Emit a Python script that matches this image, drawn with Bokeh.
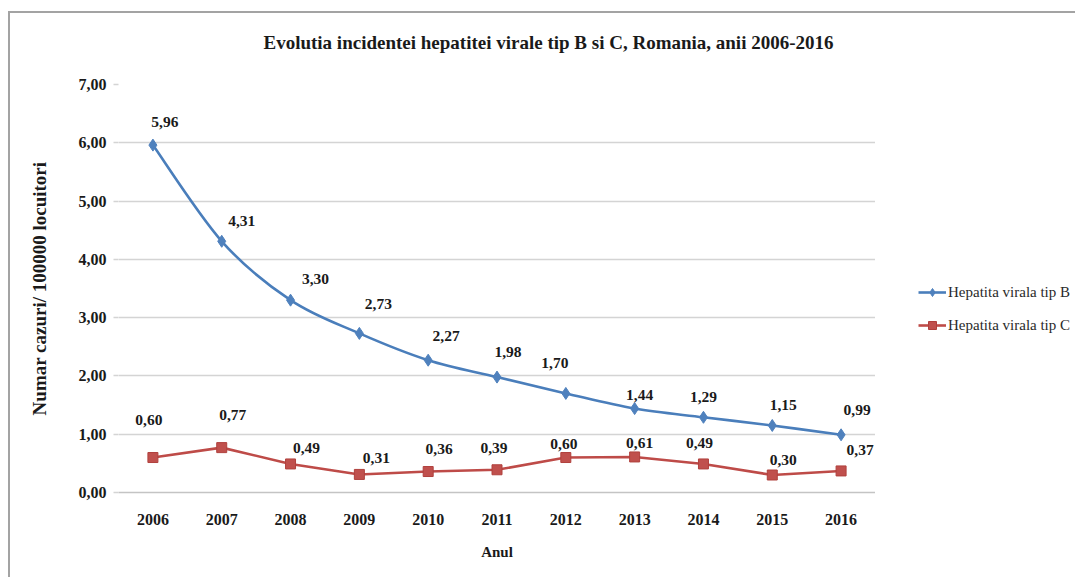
import numpy as np
from bokeh.plotting import figure
from bokeh.layouts import column, row
from bokeh.models import (ColumnDataSource, FixedTicker, Legend, LegendItem,
                          LabelSet, Label, Range1d)
from bokeh.embed import file_html
from bokeh.resources import INLINE

# ---- data -------------------------------------------------------------
years = [2006, 2007, 2008, 2009, 2010, 2011, 2012, 2013, 2014, 2015, 2016]
hep_b = [5.96, 4.31, 3.30, 2.73, 2.27, 1.98, 1.70, 1.44, 1.29, 1.15, 0.99]
hep_c = [0.60, 0.77, 0.49, 0.31, 0.36, 0.39, 0.60, 0.61, 0.49, 0.30, 0.37]
y_ticks = [0, 1, 2, 3, 4, 5, 6, 7]
y_tick_labels = ["0,00", "1,00", "2,00", "3,00", "4,00", "5,00", "6,00", "7,00"]
series_names = ["Hepatita virala tip B", "Hepatita virala tip C"]
title_text = "Evolutia incidentei hepatitei virale tip B si C, Romania, anii 2006-2016"
x_title = "Anul"
y_title = "Numar cazuri/ 100000 locuitori"

# ---- layout ------------------------------------------------------------
OX, OY = 10, 13              # content offset inside the bordered chart area
W_ALL = 1075 - OX
H_TITLE = 58                 # title strip
H_PLOT = 577 - OY - H_TITLE  # main plot row
W_PLOT = 865                 # main figure (frame ends at its right edge)
W_LEG = W_ALL - W_PLOT       # legend strip
SERIF = "Liberation Serif"
BLUE, BLUE_M = "#4A7EBB", "#4F81BD"
RED, RED_M = "#BE4B48", "#C0504D"
TXT = "#1a1a1a"


def fmt(v):
    return f"{v:.2f}".replace(".", ",")


# hand-placed data-label offsets (pixels, right / up)
b_off = [(12, 23), (20, 20), (25, 21), (19, 29), (18, 24), (11, 25),
         (-11, 30), (5, 14), (0, 20), (11, 20), (16, 25)]
c_off = [(-4, 38), (11, 33), (16, 16), (17, 16), (11, 23), (-3, 22),
         (-2, 14), (5, 14), (-4, 21), (11, 15), (19, 21)]


def blank(width, height):
    f = figure(width=width, height=height, x_range=Range1d(0, 1), y_range=Range1d(0, 1),
               x_axis_type=None, y_axis_type=None, output_backend="svg",
               toolbar_location=None, min_border=0)
    f.outline_line_color = None
    f.background_fill_color = "white"
    f.border_fill_color = "white"
    return f


# ---- title strip ---------------------------------------------------------
t = blank(W_ALL, H_TITLE)
t.add_layout(Label(x=538, y=H_TITLE - 29, x_units="screen", y_units="screen",
                   text=title_text, text_font=SERIF, text_font_style="bold",
                   text_font_size="19px", text_color=TXT,
                   text_align="center", text_baseline="middle"))

# ---- main plot -----------------------------------------------------------
p = figure(width=W_PLOT, height=H_PLOT, x_range=(years[0] - 0.5, years[-1] + 0.5),
           y_range=(y_ticks[0], y_ticks[-1]), output_backend="svg",
           toolbar_location=None, min_border_left=108, min_border_right=0,
           min_border_top=13, min_border_bottom=85)
p.outline_line_color = None
p.background_fill_color = "white"
p.border_fill_color = "white"

p.xgrid.grid_line_color = None
p.ygrid.ticker = FixedTicker(ticks=y_ticks)
p.ygrid.grid_line_color = "#d4d4d4"
p.ygrid.grid_line_width = 1.6

p.xaxis.ticker = FixedTicker(ticks=years)
p.xaxis.axis_line_color = "#c4c4c4"
p.xaxis.axis_line_width = 1.6
p.xaxis.major_tick_line_color = None
p.xaxis.minor_tick_line_color = None
p.xaxis.major_label_standoff = 15
p.xaxis.axis_label = x_title
p.xaxis.axis_label_standoff = 16

p.yaxis.ticker = FixedTicker(ticks=y_ticks)
p.yaxis.major_label_overrides = {tk: lab for tk, lab in zip(y_ticks, y_tick_labels)}
p.yaxis.axis_line_color = None
p.yaxis.major_tick_line_color = "#d4d4d4"
p.yaxis.major_tick_line_width = 1.6
p.yaxis.major_tick_out = 5
p.yaxis.major_tick_in = 0
p.yaxis.minor_tick_line_color = None
p.yaxis.major_label_standoff = 7
p.yaxis.axis_label = y_title
p.yaxis.axis_label_standoff = 26

for ax in (p.xaxis, p.yaxis):
    ax.major_label_text_font = SERIF
    ax.major_label_text_font_style = "bold"
    ax.major_label_text_font_size = "16px"
    ax.major_label_text_color = TXT
    ax.axis_label_text_font = SERIF
    ax.axis_label_text_font_style = "bold"
    ax.axis_label_text_color = TXT
p.xaxis.axis_label_text_font_size = "15px"
p.yaxis.axis_label_text_font_size = "19px"

# series B: smoothed curve drawn as cubic Bezier segments
xb = np.array(years, dtype=float)
yb = np.array(hep_b, dtype=float)
xp = np.concatenate([[xb[0]], xb, [xb[-1]]])
yp = np.concatenate([[yb[0]], yb, [yb[-1]]])
seg = ColumnDataSource(dict(
    x0=xb[:-1], y0=yb[:-1], x1=xb[1:], y1=yb[1:],
    cx0=xb[:-1] + (xp[2:-1] - xp[:-3]) / 6, cy0=yb[:-1] + (yp[2:-1] - yp[:-3]) / 6,
    cx1=xb[1:] - (xp[3:] - xp[1:-2]) / 6, cy1=yb[1:] - (yp[3:] - yp[1:-2]) / 6,
))
line_style_b = dict(line_color=BLUE, line_width=2.6)
mark_style_b = dict(marker="diamond", size=12, fill_color=BLUE_M, line_color=BLUE_M, line_width=1)
line_style_c = dict(line_color=RED, line_width=2.6)
mark_style_c = dict(marker="square", size=10, fill_color=RED_M, line_color="#B0403D", line_width=1)

p.bezier(x0="x0", y0="y0", x1="x1", y1="y1", cx0="cx0", cy0="cy0",
         cx1="cx1", cy1="cy1", source=seg, **line_style_b)
p.scatter(years, hep_b, **mark_style_b)

# series C: straight segments with square markers
p.line(years, hep_c, **line_style_c)
p.scatter(years, hep_c, **mark_style_c)

# data labels
for vals, off in ((hep_b, b_off), (hep_c, c_off)):
    src = ColumnDataSource(dict(x=years, y=vals, t=[fmt(v) for v in vals],
                                dx=[o[0] for o in off], dy=[o[1] for o in off]))
    p.add_layout(LabelSet(x="x", y="y", text="t", source=src,
                          x_offset="dx", y_offset="dy",
                          text_font=SERIF, text_font_style="bold",
                          text_font_size="15.5px", text_color=TXT,
                          text_align="center", text_baseline="middle"))

# ---- legend strip --------------------------------------------------------
# The strip holds the same series (outside its visible range) so that the
# legend can show their line and marker styles next to the plot.
q = blank(W_LEG, H_PLOT)
lb = q.line(years, hep_b, **line_style_b)
mb = q.scatter(years, hep_b, **mark_style_b)
lc = q.line(years, hep_c, **line_style_c)
mc = q.scatter(years, hep_c, **mark_style_c)
legend = Legend(items=[LegendItem(label=series_names[0], renderers=[lb, mb]),
                       LegendItem(label=series_names[1], renderers=[lc, mc])],
                location=(43, 157), orientation="vertical",
                margin=0, padding=0, border_line_color=None,
                background_fill_alpha=0, glyph_width=28, glyph_height=20,
                label_height=20, label_standoff=2, spacing=13,
                label_text_font=SERIF, label_text_font_size="15px",
                label_text_color="#2a2a2a")
q.add_layout(legend, "center")

layout = column(t, row(p, q, spacing=0), spacing=0)
layout.margin = (OY - 2, 0, 0, OX - 2)
layout.styles = {"border-top": "2px solid #a3a3a3", "border-left": "2px solid #a3a3a3"}

open("out.html", "w").write(file_html(layout, INLINE))
